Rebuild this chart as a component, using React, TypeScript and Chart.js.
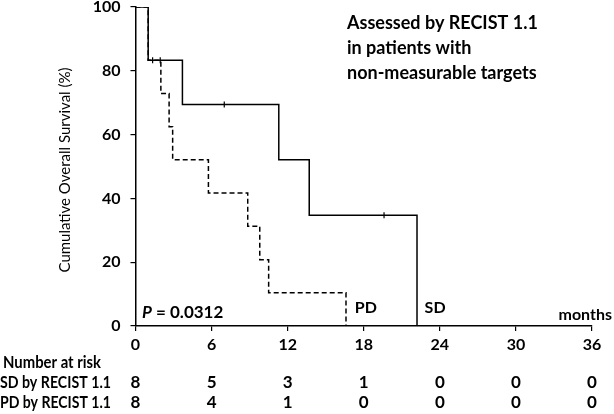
import React, { useEffect, useRef } from "react";
import { Chart, registerables } from "chart.js";

Chart.register(...registerables);

// Kaplan-Meier step data (months, %)
const sdTimes = [0, 1.0, 3.7, 11.3, 13.7, 22.2];
const sdSurv = [100, 83.3, 69.4, 52.1, 34.7, 0];
const pdTimes = [0, 1.0, 2.0, 2.65, 2.93, 5.75, 8.85, 9.8, 10.5, 16.6];
const pdSurv = [100, 83.3, 72.9, 62.5, 52.1, 41.7, 31.3, 20.8, 10.4, 0];

// censored observations
const sdCensorTimes = [1.35, 7.0, 19.6];
const sdCensorSurv = [83.3, 69.4, 34.7];
const pdCensorTimes = [1.95];
const pdCensorSurv = [83.3];

// number at risk table
const riskTimes = [0, 6, 12, 18, 24, 30, 36];
const riskSD = [8, 5, 3, 1, 0, 0, 0];
const riskPD = [8, 4, 1, 0, 0, 0, 0];
const riskLabels = ["SD by RECIST 1.1", "PD by RECIST 1.1"];

const annotationLines = [
  "Assessed by RECIST 1.1",
  "in patients with",
  "non-measurable targets",
];

const FONT = "Lato, 'Open Sans', sans-serif";

const zip = (xs: number[], ys: number[]) => xs.map((x, i) => ({ x, y: ys[i] }));

const textPlugin = {
  id: "kmText",
  afterDraw(chart: any) {
    const ctx = chart.ctx as CanvasRenderingContext2D;
    const xs = chart.scales.x;
    ctx.save();
    ctx.fillStyle = "#000";
    ctx.textBaseline = "middle";

    // annotation block
    ctx.font = `bold 18px ${FONT}`;
    ctx.textAlign = "left";
    annotationLines.forEach((l, i) => ctx.fillText(l, 347, 23 + i * 25));

    // curve labels
    ctx.font = `bold 16px ${FONT}`;
    ctx.fillText("PD", xs.getPixelForValue(17.3), 308);
    ctx.fillText("SD", xs.getPixelForValue(22.8), 308);
    ctx.textAlign = "right";
    ctx.fillText("months", 612, 315);

    // P value
    ctx.textAlign = "left";
    ctx.font = `italic bold 17px ${FONT}`;
    ctx.fillText("P", 142, 313);
    const pw = ctx.measureText("P").width;
    ctx.font = `bold 17px ${FONT}`;
    ctx.fillText(" = 0.0312", 142 + pw, 313);

    // y-axis title
    ctx.save();
    ctx.translate(65, 170);
    ctx.rotate(-Math.PI / 2);
    ctx.textAlign = "center";
    ctx.font = `15px ${FONT}`;
    ctx.fillText("Cumulative Overall Survival (%)", 0, 0, 205);
    ctx.restore();

    // risk table
    ctx.font = `bold 17px ${FONT}`;
    ctx.textAlign = "left";
    ctx.fillText("Number at risk", 3, 363, 98);
    ctx.fillText(riskLabels[0], 0, 383, 111);
    ctx.fillText(riskLabels[1], 0, 403, 111);
    ctx.textAlign = "center";
    riskTimes.forEach((t, i) => {
      const px = xs.getPixelForValue(t);
      ctx.fillText(String(riskSD[i]), px, 383);
      ctx.fillText(String(riskPD[i]), px, 403);
    });
    ctx.restore();
  },
};

export default function App() {
  const ref = useRef<HTMLCanvasElement>(null);

  useEffect(() => {
    if (!ref.current) return;
    const chart = new Chart(ref.current, {
      type: "line",
      data: {
        datasets: [
          {
            label: "SD",
            data: zip(sdTimes, sdSurv),
            borderColor: "#000",
            borderWidth: 1.5,
            stepped: true,
            pointRadius: 0,
            fill: false,
            order: 1,
          },
          {
            label: "PD",
            data: zip(pdTimes, pdSurv),
            borderColor: "#000",
            borderWidth: 1.5,
            borderDash: [5, 3],
            stepped: true,
            pointRadius: 0,
            fill: false,
            order: 2,
          },
          {
            label: "SD censored",
            data: zip(sdCensorTimes, sdCensorSurv),
            showLine: false,
            pointStyle: "line",
            rotation: 90,
            pointRadius: 3,
            borderColor: "#000",
            pointBorderWidth: 1.2,
            order: 0,
          },
          {
            label: "PD censored",
            data: zip(pdCensorTimes, pdCensorSurv),
            showLine: false,
            pointStyle: "line",
            rotation: 90,
            pointRadius: 3,
            borderColor: "#000",
            pointBorderWidth: 1.2,
            order: 0,
          },
        ],
      },
      options: {
        responsive: false,
        animation: false,
        layout: { padding: { top: 7, right: 22, left: 0, bottom: 0 } },
        plugins: {
          legend: { display: false },
          tooltip: { enabled: false },
        },
        scales: {
          x: {
            type: "linear",
            min: 0,
            max: 36,
            border: { display: true, color: "#000", width: 1.5 },
            grid: {
              display: true,
              drawOnChartArea: false,
              drawTicks: true,
              tickLength: 5,
              color: "#000",
              lineWidth: 1.2,
            },
            ticks: {
              stepSize: 6,
              color: "#000",
              padding: 4,
              font: { family: FONT, size: 16, weight: "bold" },
            },
            afterFit: (s: any) => {
              s.height = 88;
              s.paddingLeft = 0;
              s.paddingRight = 0;
            },
          },
          y: {
            min: 0,
            max: 100,
            border: { display: true, color: "#000", width: 1.5 },
            grid: {
              display: true,
              drawOnChartArea: false,
              drawTicks: true,
              tickLength: 5,
              color: "#000",
              lineWidth: 1.2,
            },
            ticks: {
              stepSize: 20,
              color: "#000",
              padding: 10,
              font: { family: FONT, size: 16, weight: "bold" },
            },
            afterFit: (s: any) => {
              s.width = 135.5;
              s.paddingTop = 0;
              s.paddingBottom = 0;
            },
          },
        },
      },
      plugins: [textPlugin],
    });
    return () => chart.destroy();
  }, []);

  return (
    <div style={{ position: "fixed", left: 0, top: 0, width: 614, height: 414, background: "#fff" }}>
      <canvas ref={ref} width={614} height={414} />
    </div>
  );
}
